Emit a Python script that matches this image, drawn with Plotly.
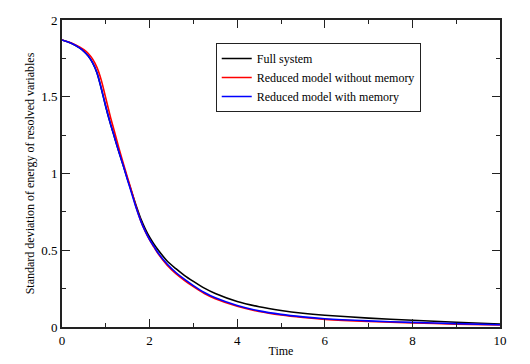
import plotly.graph_objects as go

time_pts = [0, 0.2, 0.4, 0.5, 0.6, 0.7, 0.8, 0.9, 1.0, 1.1, 1.2, 1.3, 1.4, 1.5, 1.6, 1.7, 1.8, 1.9, 2.0,
            2.1, 2.2, 2.4, 2.6, 2.8, 3.0, 3.25, 3.5, 4.0, 4.5, 5.0, 5.5, 6.0, 7.0, 8.0, 9.0, 10.0]
full_system = [1.87, 1.85, 1.818, 1.795, 1.765, 1.72, 1.655, 1.55, 1.435, 1.33, 1.235, 1.14, 1.05, 0.96,
               0.872, 0.785, 0.705, 0.64, 0.585, 0.54, 0.50, 0.43, 0.38, 0.335, 0.297, 0.253, 0.218,
               0.166, 0.132, 0.108, 0.09, 0.077, 0.058, 0.044, 0.031, 0.02]
no_memory = [1.87, 1.852, 1.825, 1.807, 1.782, 1.745, 1.69, 1.605, 1.49, 1.375, 1.27, 1.165, 1.065, 0.97,
             0.875, 0.775, 0.69, 0.623, 0.567, 0.52, 0.475, 0.403, 0.348, 0.303, 0.263, 0.218, 0.184,
             0.135, 0.101, 0.078, 0.062, 0.05, 0.036, 0.027, 0.019, 0.013]
with_memory = [1.87, 1.85, 1.818, 1.795, 1.765, 1.72, 1.655, 1.55, 1.435, 1.33, 1.235, 1.14, 1.05, 0.955,
               0.862, 0.77, 0.69, 0.625, 0.57, 0.525, 0.48, 0.41, 0.355, 0.31, 0.27, 0.225, 0.19,
               0.14, 0.105, 0.082, 0.066, 0.054, 0.04, 0.03, 0.022, 0.015]

names = ["Full system", "Reduced model without memory", "Reduced model with memory"]
colors = ["#000000", "#ff0000", "#0000ff"]
series = [full_system, no_memory, with_memory]

fig = go.Figure()
for name, color, ys in zip(names, colors, series):
    fig.add_trace(go.Scatter(x=time_pts, y=ys, mode="lines", name=name,
                             line=dict(color=color, width=1.6, shape="spline", smoothing=0.8)))

font = "Liberation Serif, Times New Roman, serif"
axis_common = dict(showline=True, linecolor="#222222", linewidth=2, mirror="ticks",
                   ticks="inside", tickcolor="#222222", tickwidth=1.3, ticklen=8,
                   showgrid=False, zeroline=False, automargin=False,
                   tickfont=dict(family=font, size=13, color="black"))

fig.update_layout(
    width=530, height=364,
    margin=dict(l=62, r=30, t=20, b=37),
    paper_bgcolor="white", plot_bgcolor="white",
    font=dict(family=font, color="black"),
    showlegend=True,
    legend=dict(x=0.351, y=0.925, xanchor="left", yanchor="top",
                bordercolor="#222222", borderwidth=1, bgcolor="white",
                font=dict(family=font, size=12, color="black"),
                tracegroupgap=0),
    xaxis=dict(range=[0, 10], dtick=2, tick0=0,
               minor=dict(dtick=1, ticks="inside", ticklen=4, tickcolor="#222222"),
               title=dict(text="Time", font=dict(family=font, size=12), standoff=0),
               **axis_common),
    yaxis=dict(range=[0, 2], dtick=0.5, tick0=0,
               minor=dict(dtick=0.25, ticks="inside", ticklen=4, tickcolor="#222222"),
               title=dict(text="Standard deviation of energy of resolved variables",
                          font=dict(family=font, size=12), standoff=4),
               **axis_common),
)

fig.write_html("out.html", config={"displayModeBar": False},
               post_script="document.body.style.margin='0';document.body.style.overflow='hidden';")
